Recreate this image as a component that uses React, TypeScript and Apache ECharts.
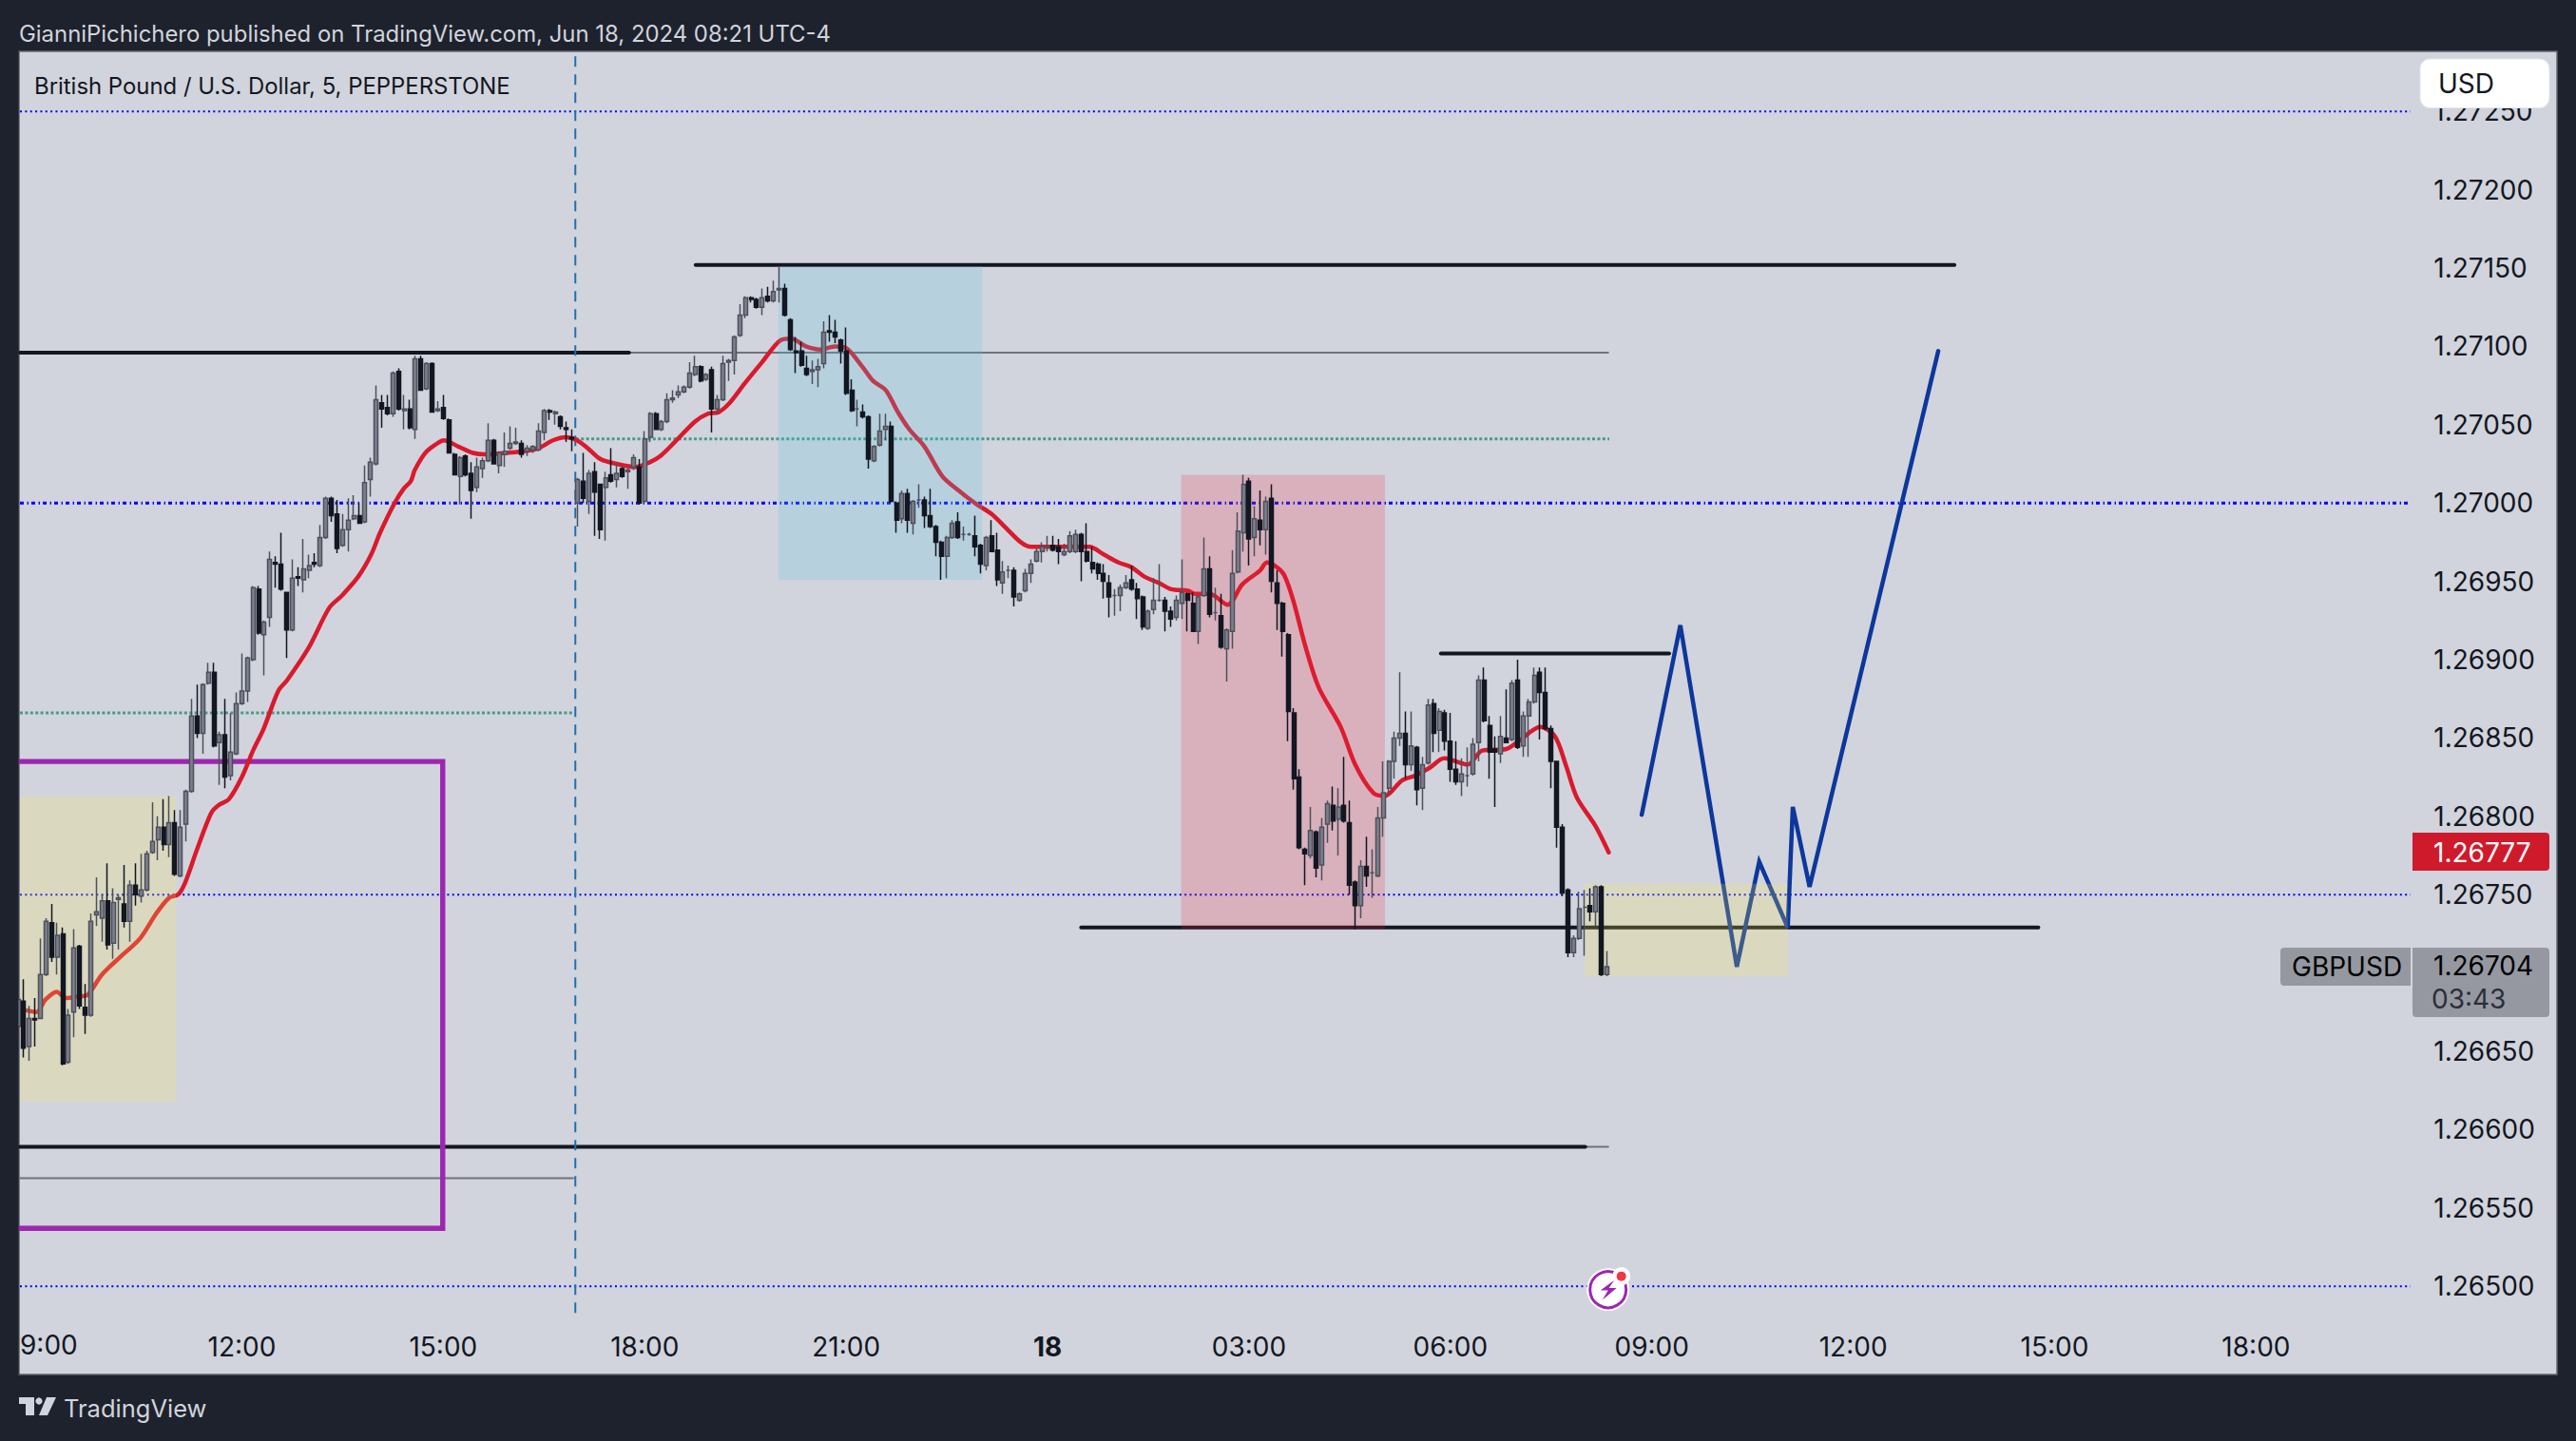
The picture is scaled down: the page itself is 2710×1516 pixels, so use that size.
import React, { useEffect, useRef } from "react";
import * as echarts from "echarts";

const FONT = "Inter, 'Noto Sans', sans-serif";

// [open, close, low, high] of GBPUSD 5-minute bars, first bar 08:40 on Jun 17
const candles: number[][] = [
[1.26666,1.26683,1.26665,1.26686],[1.26682,1.26652,1.26646,1.26696],[1.26653,1.26671,1.26644,1.26679],[1.26671,1.26670,1.26653,1.26684],
[1.26671,1.26699,1.26671,1.26722],[1.26699,1.26733,1.26698,1.26735],[1.26732,1.26710,1.26707,1.26744],[1.26710,1.26724,1.26699,1.26732],
[1.26725,1.26642,1.26641,1.26729],[1.26643,1.26673,1.26642,1.26677],[1.26675,1.26716,1.26659,1.26728],[1.26717,1.26679,1.26677,1.26718],
[1.26678,1.26673,1.26661,1.26693],[1.26673,1.26733,1.26672,1.26738],[1.26737,1.26739,1.26730,1.26761],[1.26735,1.26746,1.26720,1.26750],
[1.26746,1.26718,1.26715,1.26770],[1.26719,1.26745,1.26709,1.26754],[1.26747,1.26748,1.26715,1.26750],[1.26744,1.26733,1.26729,1.26769],
[1.26733,1.26756,1.26720,1.26759],[1.26756,1.26750,1.26743,1.26770],[1.26749,1.26753,1.26745,1.26776],[1.26753,1.26776,1.26752,1.26778],
[1.26777,1.26784,1.26776,1.26809],[1.26785,1.26793,1.26772,1.26800],[1.26793,1.26782,1.26778,1.26811],[1.26782,1.26796,1.26774,1.26813],
[1.26796,1.26763,1.26762,1.26804],[1.26762,1.26793,1.26761,1.26804],[1.26795,1.26816,1.26784,1.26817],[1.26816,1.26864,1.26815,1.26875],
[1.26864,1.26853,1.26850,1.26884],[1.26853,1.26884,1.26840,1.26885],[1.26885,1.26892,1.26884,1.26898],[1.26892,1.26845,1.26844,1.26898],
[1.26847,1.26852,1.26820,1.26854],[1.26852,1.26825,1.26818,1.26875],[1.26826,1.26841,1.26823,1.26866],[1.26840,1.26872,1.26839,1.26879],
[1.26872,1.26880,1.26871,1.26904],[1.26880,1.26901,1.26873,1.26902],[1.26900,1.26946,1.26899,1.26947],[1.26945,1.26917,1.26916,1.26947],
[1.26916,1.26924,1.26890,1.26925],[1.26927,1.26964,1.26921,1.26969],[1.26962,1.26961,1.26946,1.26966],[1.26961,1.26945,1.26944,1.26981],
[1.26943,1.26919,1.26901,1.26943],[1.26919,1.26952,1.26918,1.26964],[1.26953,1.26952,1.26947,1.26959],[1.26951,1.26958,1.26943,1.26977],
[1.26957,1.26960,1.26952,1.26967],[1.26962,1.26961,1.26959,1.26968],[1.26960,1.26978,1.26959,1.26986],[1.26978,1.27003,1.26977,1.27004],
[1.27003,1.26992,1.26988,1.27004],[1.26993,1.26971,1.26968,1.27002],[1.26973,1.26983,1.26972,1.26993],[1.26983,1.26989,1.26969,1.27003],
[1.26990,1.26992,1.26989,1.27005],[1.26992,1.26987,1.26987,1.27000],[1.26988,1.27013,1.26987,1.27024],[1.27015,1.27026,1.27004,1.27029],
[1.27025,1.27066,1.27024,1.27075],[1.27064,1.27060,1.27048,1.27069],[1.27061,1.27057,1.27056,1.27069],[1.27057,1.27083,1.27055,1.27084],
[1.27084,1.27060,1.27059,1.27086],[1.27059,1.27060,1.27047,1.27069],[1.27060,1.27048,1.27047,1.27066],[1.27047,1.27092,1.27041,1.27094],
[1.27092,1.27072,1.27072,1.27094],[1.27073,1.27089,1.27072,1.27090],[1.27089,1.27058,1.27058,1.27090],[1.27059,1.27060,1.27058,1.27065],
[1.27061,1.27054,1.27053,1.27069],[1.27053,1.27032,1.27032,1.27054],[1.27031,1.27018,1.27018,1.27032],[1.27017,1.27029,1.26999,1.27030],
[1.27030,1.27018,1.27017,1.27031],[1.27019,1.27008,1.26990,1.27026],[1.27010,1.27023,1.27007,1.27029],[1.27022,1.27027,1.27016,1.27029],
[1.27027,1.27040,1.27026,1.27051],[1.27040,1.27025,1.27025,1.27041],[1.27024,1.27032,1.27019,1.27033],[1.27031,1.27033,1.27023,1.27045],
[1.27035,1.27038,1.27034,1.27049],[1.27038,1.27039,1.27037,1.27048],[1.27038,1.27031,1.27029,1.27040],[1.27033,1.27035,1.27030,1.27037],
[1.27034,1.27036,1.27032,1.27037],[1.27034,1.27046,1.27033,1.27051],[1.27045,1.27059,1.27040,1.27060],[1.27059,1.27058,1.27053,1.27060],
[1.27057,1.27058,1.27050,1.27059],[1.27055,1.27049,1.27047,1.27056],[1.27048,1.27047,1.27039,1.27052],[1.27042,1.27041,1.27033,1.27047],
[1.27000,1.27015,1.26985,1.27016],[1.27014,1.27003,1.27000,1.27032],[1.27001,1.27019,1.26993,1.27021],[1.27020,1.27007,1.26979,1.27026],
[1.27012,1.26983,1.26977,1.27012],[1.27010,1.27016,1.26976,1.27020],[1.27018,1.27014,1.27013,1.27035],[1.27015,1.27019,1.27010,1.27025],
[1.27022,1.27017,1.27016,1.27023],[1.27020,1.27021,1.27009,1.27022],[1.27023,1.27029,1.27021,1.27031],[1.27023,1.27000,1.26999,1.27028],
[1.27001,1.27041,1.27000,1.27046],[1.27042,1.27057,1.27039,1.27058],[1.27057,1.27047,1.27047,1.27058],[1.27047,1.27052,1.27046,1.27053],
[1.27052,1.27066,1.27051,1.27070],[1.27066,1.27067,1.27064,1.27072],[1.27069,1.27071,1.27067,1.27075],[1.27071,1.27074,1.27070,1.27075],
[1.27074,1.27083,1.27073,1.27090],[1.27082,1.27087,1.27081,1.27094],[1.27087,1.27078,1.27077,1.27088],[1.27079,1.27082,1.27078,1.27083],
[1.27085,1.27060,1.27045,1.27087],[1.27060,1.27066,1.27057,1.27069],[1.27066,1.27089,1.27065,1.27094],[1.27090,1.27091,1.27078,1.27092],
[1.27091,1.27106,1.27082,1.27107],[1.27107,1.27120,1.27106,1.27127],[1.27120,1.27131,1.27118,1.27132],[1.27131,1.27130,1.27128,1.27132],
[1.27130,1.27125,1.27124,1.27131],[1.27125,1.27131,1.27120,1.27137],[1.27132,1.27129,1.27128,1.27138],[1.27129,1.27135,1.27128,1.27142],
[1.27136,1.27137,1.27128,1.27151],[1.27137,1.27120,1.27119,1.27140],[1.27117,1.27098,1.27097,1.27118],[1.27097,1.27096,1.27083,1.27106],
[1.27097,1.27088,1.27087,1.27103],[1.27086,1.27082,1.27081,1.27094],[1.27084,1.27085,1.27076,1.27091],[1.27085,1.27087,1.27074,1.27092],
[1.27089,1.27109,1.27086,1.27116],[1.27110,1.27109,1.27103,1.27120],[1.27109,1.27106,1.27102,1.27117],[1.27104,1.27097,1.27089,1.27105],
[1.27097,1.27070,1.27069,1.27112],[1.27072,1.27059,1.27058,1.27079],[1.27060,1.27060,1.27049,1.27066],[1.27058,1.27055,1.27054,1.27063],
[1.27055,1.27028,1.27022,1.27056],[1.27027,1.27036,1.27026,1.27037],[1.27037,1.27046,1.27036,1.27057],[1.27047,1.27049,1.27040,1.27057],
[1.27049,1.27001,1.27000,1.27052],[1.27000,1.26989,1.26981,1.27001],[1.26990,1.27006,1.26987,1.27008],[1.27006,1.26989,1.26981,1.27009],
[1.26987,1.27001,1.26980,1.27002],[1.27002,1.27002,1.26997,1.27012],[1.27002,1.26992,1.26984,1.27004],[1.26992,1.26985,1.26984,1.27009],
[1.26985,1.26975,1.26966,1.26986],[1.26975,1.26966,1.26951,1.26976],[1.26966,1.26978,1.26952,1.26979],[1.26978,1.26987,1.26977,1.26989],
[1.26988,1.26978,1.26977,1.26994],[1.26980,1.26980,1.26976,1.26985],[1.26980,1.26980,1.26979,1.26981],[1.26979,1.26972,1.26966,1.26992],
[1.26973,1.26961,1.26955,1.26974],[1.26960,1.26978,1.26957,1.26979],[1.26979,1.26969,1.26969,1.26989],[1.26970,1.26951,1.26947,1.26981],
[1.26949,1.26956,1.26942,1.26963],[1.26957,1.26957,1.26952,1.26960],[1.26957,1.26940,1.26934,1.26959],[1.26938,1.26942,1.26937,1.26943],
[1.26944,1.26955,1.26943,1.26958],[1.26955,1.26961,1.26949,1.26964],[1.26963,1.26969,1.26962,1.26971],[1.26969,1.26972,1.26962,1.26975],
[1.26972,1.26972,1.26969,1.26979],[1.26973,1.26970,1.26969,1.26979],[1.26972,1.26969,1.26961,1.26977],[1.26967,1.26969,1.26966,1.26974],
[1.26969,1.26979,1.26968,1.26982],[1.26969,1.26980,1.26968,1.26983],[1.26980,1.26969,1.26950,1.26981],[1.26969,1.26963,1.26962,1.26987],
[1.26962,1.26958,1.26955,1.26972],[1.26961,1.26955,1.26951,1.26962],[1.26955,1.26950,1.26939,1.26961],[1.26949,1.26940,1.26927,1.26954],
[1.26941,1.26941,1.26928,1.26945],[1.26941,1.26946,1.26931,1.26948],[1.26946,1.26949,1.26945,1.26954],[1.26951,1.26945,1.26944,1.26960],
[1.26945,1.26939,1.26926,1.26949],[1.26940,1.26921,1.26919,1.26941],[1.26920,1.26931,1.26919,1.26932],[1.26932,1.26938,1.26929,1.26952],
[1.26938,1.26938,1.26937,1.26961],[1.26938,1.26931,1.26918,1.26940],[1.26931,1.26926,1.26921,1.26934],[1.26927,1.26938,1.26925,1.26941],
[1.26936,1.26943,1.26926,1.26964],[1.26942,1.26938,1.26918,1.26943],[1.26936,1.26918,1.26918,1.26943],[1.26918,1.26940,1.26910,1.26941],
[1.26941,1.26958,1.26940,1.26978],[1.26958,1.26929,1.26927,1.26966],[1.26930,1.26930,1.26925,1.26946],[1.26928,1.26908,1.26907,1.26942],
[1.26907,1.26919,1.26886,1.26920],[1.26918,1.26955,1.26907,1.26970],[1.26956,1.26982,1.26955,1.26994],[1.26981,1.27012,1.26969,1.27018],
[1.27014,1.26977,1.26960,1.27016],[1.26978,1.26990,1.26966,1.26998],[1.26989,1.26983,1.26973,1.27008],[1.26983,1.27001,1.26967,1.27004],
[1.27003,1.26950,1.26943,1.27012],[1.26949,1.26936,1.26919,1.26957],[1.26936,1.26918,1.26902,1.26937],[1.26916,1.26867,1.26848,1.26917],
[1.26866,1.26824,1.26817,1.26869],[1.26825,1.26780,1.26779,1.26830],[1.26779,1.26776,1.26756,1.26780],[1.26775,1.26791,1.26773,1.26806],
[1.26790,1.26767,1.26761,1.26791],[1.26769,1.26793,1.26759,1.26799],[1.26795,1.26808,1.26783,1.26810],[1.26807,1.26797,1.26791,1.26819],
[1.26798,1.26806,1.26775,1.26818],[1.26807,1.26797,1.26796,1.26838],[1.26796,1.26756,1.26750,1.26810],[1.26758,1.26743,1.26728,1.26759],
[1.26743,1.26768,1.26735,1.26772],[1.26768,1.26762,1.26755,1.26787],[1.26764,1.26764,1.26748,1.26779],[1.26762,1.26799,1.26761,1.26806],
[1.26799,1.26815,1.26787,1.26835],[1.26818,1.26835,1.26814,1.26836],[1.26835,1.26850,1.26824,1.26854],[1.26850,1.26853,1.26845,1.26892],
[1.26853,1.26833,1.26824,1.26867],[1.26833,1.26845,1.26829,1.26867],[1.26844,1.26817,1.26807,1.26845],[1.26818,1.26833,1.26804,1.26838],
[1.26834,1.26871,1.26833,1.26875],[1.26872,1.26853,1.26841,1.26875],[1.26855,1.26867,1.26841,1.26869],[1.26866,1.26848,1.26842,1.26868],
[1.26848,1.26830,1.26822,1.26866],[1.26830,1.26822,1.26820,1.26848],[1.26822,1.26827,1.26813,1.26837],[1.26826,1.26826,1.26819,1.26844],
[1.26827,1.26846,1.26826,1.26850],[1.26847,1.26887,1.26835,1.26890],[1.26887,1.26861,1.26860,1.26895],[1.26858,1.26841,1.26824,1.26864],
[1.26843,1.26841,1.26806,1.26851],[1.26840,1.26851,1.26834,1.26864],[1.26850,1.26847,1.26847,1.26881],[1.26849,1.26885,1.26848,1.26887],
[1.26887,1.26844,1.26843,1.26900],[1.26845,1.26864,1.26838,1.26867],[1.26864,1.26873,1.26838,1.26875],[1.26873,1.26890,1.26872,1.26895],
[1.26892,1.26879,1.26849,1.26895],[1.26879,1.26856,1.26855,1.26895],[1.26856,1.26835,1.26818,1.26858],[1.26835,1.26793,1.26780,1.26835],
[1.26793,1.26751,1.26749,1.26795],[1.26753,1.26713,1.26710,1.26754],[1.26713,1.26722,1.26710,1.26724],[1.26722,1.26741,1.26721,1.26752],
[1.26742,1.26742,1.26711,1.26753],[1.26743,1.26739,1.26733,1.26754],[1.26739,1.26755,1.26730,1.26756],[1.26755,1.26699,1.26698,1.26756],
[1.26699,1.26704,1.26698,1.26714],
];

// 20-period average, read at the bars where its curve bends: bar number and price
const emaBars = [0.65,2.3,3.9,5.9,7.5,9.8,11.4,14,17.2,20.8,23.7,26,27.6,28.9,30.9,33.5,34.8,36.7,39,41,42.9,45.5,47.1,51,54.6,56.9,59.8,62.1,63.7,66.3,67.9,69.2,69.9,71.8,73.5,75.1,77.7,80.3,82.9,86.2,89.4,92,94.6,96.9,98.9,100.8,103.1,106,109.3,111.9,113.8,116.4,120,122.3,124.2,126.2,128.8,132,135.3,137.2,139.8,142.4,145,147,149.9,151.8,154.1,156.1,158.3,161,164.2,167.1,170.4,173,175.6,178.2,180.1,185.3,190.5,193.1,195.7,198,200.3,202.9,205.1,208.1,209.4,212,215.2,217.8,221,222.2,224,225.3,226.9,229.2,231.5,235.4,238,241.2,243.2,246.4,248.7,251.3,253.9,258.1,260.7,265,267.2,271.1,273.7,275.7,277.6,280.9,283.3];
const emaPrices = [1.26676,1.26675,1.26683,1.26688,1.26684,1.26685,1.26686,1.26699,1.2671,1.26722,1.26738,1.26748,1.2675,1.26758,1.26778,1.26802,1.26807,1.26811,1.26825,1.26842,1.26856,1.2688,1.26887,1.26908,1.26933,1.26941,1.26953,1.26967,1.26981,1.27,1.27009,1.27014,1.27021,1.27032,1.27037,1.2704,1.27036,1.27032,1.27031,1.27032,1.27033,1.27035,1.2704,1.27042,1.2704,1.27035,1.27028,1.27025,1.27023,1.27026,1.2703,1.27039,1.27052,1.27057,1.27058,1.27064,1.27076,1.2709,1.27104,1.27105,1.271,1.27098,1.271,1.27099,1.27087,1.27078,1.27072,1.27059,1.27047,1.27036,1.27017,1.27008,1.26999,1.26993,1.26984,1.26975,1.26972,1.26972,1.26972,1.26967,1.26962,1.26959,1.26953,1.26949,1.26945,1.26944,1.26942,1.26942,1.26935,1.26948,1.26957,1.26962,1.26959,1.26954,1.26938,1.26907,1.26882,1.26857,1.26833,1.26815,1.26813,1.26823,1.26826,1.26831,1.26837,1.26833,1.26842,1.26843,1.26848,1.26857,1.26851,1.26832,1.26812,1.26794,1.26777];

// hand-drawn projection
const pathBars = [289.2,296.1,306.2,310.2,315.3,316.2,319.2,342.2];
const pathPrices = [1.26801,1.26922,1.26704,1.26771,1.26729,1.26806,1.26755,1.27097];

// drawn levels and segments: [from bar, to bar, price]
const LEFT_BAR = -0.66;
const RIGHT_BAR = 426.6;
const dottedLevels = [1.2725, 1.2675, 1.265];
const roundLevel = 1.27;
const greenSegments = [[LEFT_BAR, 98.2, 1.26866], [98.7, 283.4, 1.27041]];
const blackSegments = [[LEFT_BAR, 108.2, 1.27096], [120.1, 345.1, 1.27152], [253.3, 294.1, 1.26904], [189, 360.1, 1.26729], [LEFT_BAR, 279.1, 1.26589]];
const greySegments = [[108.2, 283.2, 1.27096], [279.3, 283.2, 1.26589], [LEFT_BAR, 98.2, 1.26569]];
const sessionLine = { bar: 98.6, from: 1.26483, to: 1.27286 };

// zones: [from bar, to bar, top price, bottom price]
const blueZones = [[134.9, 171.3, 1.27151, 1.26951]];
const pinkZones = [[206.9, 243.3, 1.27018, 1.26728]];
const yellowZones = [[LEFT_BAR, 27.2, 1.26813, 1.26618], [279, 315.3, 1.26757, 1.26698]];
const purpleBars = [LEFT_BAR, 74.9, 74.9, LEFT_BAR];
const purplePrices = [1.26835, 1.26835, 1.26537, 1.26537];

const xTickLabels = ["12:00", "15:00", "18:00", "21:00", "18", "03:00", "06:00", "09:00"];
const hiddenPriceTicks = ["1.26700"]; // covered by the last-price tag
const BAR_SLOTS = 428;
const categories: string[] = [];
for (let k = 0; k < BAR_SLOTS; k++) {
  const m = (8 * 60 + 40 + k * 5) % 1440;
  const label = `${String(Math.floor(m / 60)).padStart(2, "0")}:${String(m % 60).padStart(2, "0")}`;
  categories.push(label === "00:00" ? "18" : label);
}

const INK = "#131722";
const BG = "#1e222d";
const PANE = "#d1d4dc";

function seg(name: string, xs: number[], ys: number[], color: string, width: number, dash: any, z: number, smooth = false): any {
  return {
    name, type: "line", xAxisIndex: 1, yAxisIndex: 0, z, silent: true, showSymbol: false, symbol: "none", smooth: smooth ? 0.3 : false,
    data: xs.map((x, i) => [x, ys[i]]),
    lineStyle: { color, width, type: dash, cap: dash === "solid" ? "round" : "butt", join: "miter" },
  };
}

function zone(name: string, rows: number[][], fill: string): any {
  return {
    name, type: "custom", xAxisIndex: 1, yAxisIndex: 0, z: 3, silent: true, clip: false,
    encode: { x: [0, 1], y: [2, 3] },
    data: rows,
    renderItem: (_p: any, api: any) => {
      const a = api.coord([api.value(0), api.value(2)]);
      const b = api.coord([api.value(1), api.value(3)]);
      return { type: "rect", shape: { x: a[0], y: a[1], width: b[0] - a[0], height: b[1] - a[1] }, style: { fill } };
    },
  };
}

function txt(text: string, x: number, y: number, fill: string, size = 28, extra: any = {}): any {
  return { type: "text", z: 120, silent: true, x, y, style: { text, fill, font: `${size}px ${FONT}`, textVerticalAlign: "middle", verticalAlign: "middle", ...extra } };
}

export default function App() {
  const ref = useRef<HTMLDivElement>(null);
  useEffect(() => {
    const chart = echarts.init(ref.current!, undefined, { renderer: "svg" });
    const series: any[] = [];
    dottedLevels.forEach((p, i) => series.push(seg(`level${i}`, [LEFT_BAR, RIGHT_BAR], [p, p], "#0000ff", 2, [2, 3.35], 2)));
    series.push(seg("round", [LEFT_BAR, RIGHT_BAR], [roundLevel, roundLevel], "#0000ff", 3, [4, 3.6, 1.4, 3], 2));
    greenSegments.forEach((s, i) => series.push(seg(`green${i}`, [s[0], s[1]], [s[2], s[2]], "#4a9a88", 3, [3, 2.4], 2)));
    greySegments.forEach((s, i) => series.push(seg(`grey${i}`, [s[0], s[1]], [s[2], s[2]], "#6f727d", 2, "solid", 2)));
    blackSegments.forEach((s, i) => series.push(seg(`black${i}`, [s[0], s[1]], [s[2], s[2]], INK, 4, "solid", 2)));
    series.push(seg("session", [sessionLine.bar, sessionLine.bar], [sessionLine.from, sessionLine.to], "#1f6fb0", 2, [11, 8], 2));
    series.push(seg("purple", purpleBars, purplePrices, "#9c27b0", 5.4, "solid", 2));
    series.push(seg("EMA", emaBars, emaPrices, "#d91a2d", 4.5, "solid", 2, true));
    series.push(seg("path", pathBars, pathPrices, "#0d379c", 4.5, "solid", 2));
    series.push(zone("blue", blueZones, "rgba(75,200,225,0.2)"));
    series.push(zone("pink", pinkZones, "rgba(245,40,60,0.2)"));
    series.push(zone("yellow", yellowZones, "rgba(255,241,77,0.2)"));
    series.push({
      name: "GBPUSD", type: "candlestick", xAxisIndex: 0, yAxisIndex: 0, z: 4, silent: true, barWidth: 4.5, data: candles,
      itemStyle: { color: "#7d808c", color0: INK, borderColor: "#4d505c", borderColor0: INK, borderColorDoji: "#4d505c", borderWidth: 1.5 },
    });
    const cx = 1691.7, cy = 1356.7;
    chart.setOption({
      animation: false,
      backgroundColor: BG,
      textStyle: { fontFamily: FONT },
      grid: { left: 16.07, top: 34.8, width: 2519.2, height: 1400.8, containLabel: false },
      xAxis: [
        {
          type: "category", data: categories, boundaryGap: true, axisLine: { show: false }, axisTick: { show: false }, splitLine: { show: false },
          axisLabel: {
            inside: true, margin: 5, color: INK, fontSize: 28, fontFamily: FONT, hideOverlap: false,
            interval: (index: number, value: string) => index > 10 && xTickLabels.includes(value),
            formatter: (v: string) => (v === "18" ? "{b|18}" : v),
            rich: { b: { fontWeight: 700, fontSize: 28, fontFamily: FONT, color: INK } },
          },
        },
        { type: "value", min: -1.5, max: 426.5, show: false, splitLine: { show: false } },
      ],
      yAxis: {
        type: "value", position: "right", min: 1.2645, max: 1.273, interval: 0.0005, scale: true,
        axisLine: { show: false }, axisTick: { show: false }, splitLine: { show: false },
        axisLabel: {
          margin: 25, color: INK, fontSize: 28, fontFamily: FONT, showMinLabel: true, showMaxLabel: true,
          formatter: (v: number) => (v < 1.2649 || v > 1.2728 || hiddenPriceTicks.includes(v.toFixed(5)) ? "" : v.toFixed(5)),
        },
      },
      series,
      graphic: {
        elements: [
          { type: "rect", z: -1, silent: true, shape: { x: 20, y: 54, width: 2670, height: 1392 }, style: { fill: PANE, stroke: "#62656f", lineWidth: 1.5 } },
          { type: "rect", z: 100, silent: true, shape: { x: 0, y: 54, width: 19.5, height: 1392 }, style: { fill: BG } },
          txt("GianniPichichero published on TradingView.com, Jun 18, 2024 08:21 UTC-4", 20, 35, PANE, 23.9),
          txt("British Pound / U.S. Dollar, 5, PEPPERSTONE", 36, 90, INK, 23.9),
          txt("9:00", 21, 1415, INK, 28),
          { type: "rect", z: 110, silent: true, shape: { x: 2546, y: 62, width: 136, height: 51.5, r: 10 }, style: { fill: "#ffffff", stroke: "#e4e6ec", lineWidth: 1 } },
          txt("USD", 2565, 88, INK, 28),
          { type: "rect", z: 110, silent: true, shape: { x: 2538, y: 876, width: 144, height: 40, r: [0, 4, 4, 0] }, style: { fill: "#cf1a2c" } },
          txt("1.26777", 2560, 897, "#ffffff", 28),
          { type: "rect", z: 110, silent: true, shape: { x: 2399, y: 997, width: 137, height: 40, r: [4, 0, 0, 4] }, style: { fill: "#9598a1" } },
          txt("GBPUSD", 2411, 1017, "#000000", 28),
          { type: "rect", z: 110, silent: true, shape: { x: 2538, y: 997, width: 144, height: 73, r: [0, 4, 4, 4] }, style: { fill: "#9598a1" } },
          txt("1.26704", 2560, 1016, "#000000", 28),
          txt("03:43", 2558, 1051, "#2a2e39", 28),
          { type: "polygon", z: 120, silent: true, shape: { points: [[20, 1470], [36, 1470], [36, 1489], [27, 1489], [27, 1477], [20, 1477]] }, style: { fill: PANE } },
          { type: "circle", z: 120, silent: true, shape: { cx: 41, cy: 1474, r: 3.6 }, style: { fill: PANE } },
          { type: "polygon", z: 120, silent: true, shape: { points: [[49, 1470], [59, 1470], [50, 1489], [41, 1489]] }, style: { fill: PANE } },
          txt("TradingView", 67, 1481, PANE, 25.5),
          { type: "circle", z: 110, silent: true, shape: { cx, cy, r: 22.5 }, style: { fill: "#ffffff" } },
          { type: "circle", z: 111, silent: true, shape: { cx, cy, r: 19 }, style: { fill: "#ffffff", stroke: "#9c27b0", lineWidth: 3 } },
          { type: "polygon", z: 112, silent: true, shape: { points: [[cx + 6.7, cy - 10], [cx - 8, cy + 0.7], [cx, cy + 0.7], [cx - 6, cy + 11], [cx + 9, cy - 1.7], [cx + 1, cy - 1.7]] }, style: { fill: "#9c27b0" } },
          { type: "circle", z: 113, silent: true, shape: { cx: 1705.7, cy: 1342.7, r: 9.5 }, style: { fill: "#ffffff" } },
          { type: "circle", z: 114, silent: true, shape: { cx: 1705.7, cy: 1342.7, r: 5 }, style: { fill: "#f23645" } },
        ],
      },
    });
    return () => chart.dispose();
  }, []);
  return <div ref={ref} style={{ position: "fixed", left: 0, top: 0, width: 2710, height: 1516 }} />;
}
